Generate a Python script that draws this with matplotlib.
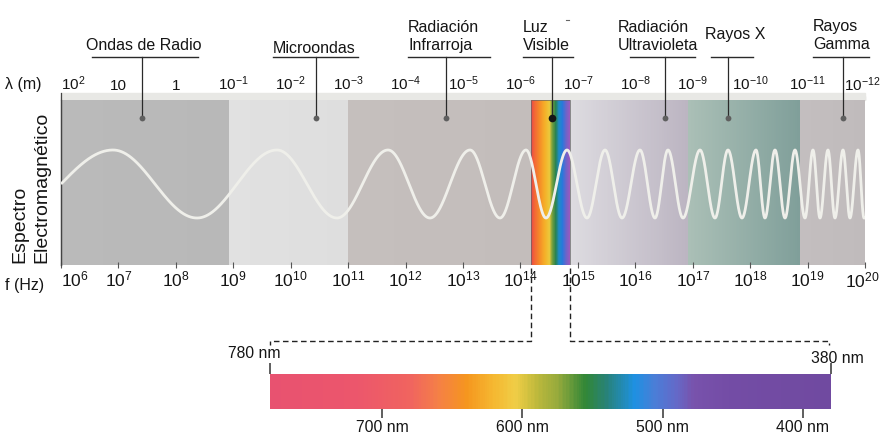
"""==============================================================
# libraries
=============================================================="""
import numpy as np
import matplotlib
matplotlib.use("Agg")
import matplotlib.pyplot as plt
from matplotlib.colors import LinearSegmentedColormap
from matplotlib.patches import Rectangle

plt.rcParams["font.family"] = ["Liberation Sans", "DejaVu Sans"]
plt.rcParams["mathtext.fontset"] = "custom"
plt.rcParams["mathtext.rm"] = "Liberation Sans"
plt.rcParams["mathtext.it"] = "Liberation Sans:italic"
plt.rcParams["mathtext.bf"] = "Liberation Sans:bold"

"""==============================================================
# data read off the picture
=============================================================="""
freq_exponents = list(range(6, 21))
wavelength_exponents = list(range(2, -13, -1))

band_names = ["Ondas de Radio", "Microondas", "Radiación\nInfrarroja",
              "Luz\nVisible", "Radiación\nUltravioleta", "Rayos X",
              "Rayos\nGamma"]
band_edges_logf = [6.0, 8.93, 11.0, 14.18, 14.86, 16.92, 18.87, 20.0]
band_pointer_logf = [7.41, 10.44, 12.70, 14.55, 16.52, 17.61, 19.62]
band_left_rgb = [(186, 186, 186), (225, 225, 225), (197, 191, 189), None,
                 (221, 219, 224), (170, 191, 182), (195, 190, 191)]
band_right_rgb = [(184, 184, 184), (222, 222, 222), (195, 189, 187), None,
                  (188, 181, 194), (128, 159, 154), (192, 187, 188)]

visible_band_pos = [0.0, 0.08, 0.22, 0.36, 0.48, 0.55, 0.64, 0.72, 0.82, 0.92, 1.0]
visible_band_rgb = [(230, 70, 75), (242, 100, 55), (245, 140, 40), (245, 175, 40),
                    (235, 200, 60), (120, 160, 60), (40, 130, 80), (30, 140, 200),
                    (40, 120, 220), (110, 100, 200), (150, 90, 190)]

# crest / trough positions of the white wave (log10 f), alternating
wave_extrema_logf = [6.905, 8.368, 9.761, 10.806, 11.694, 12.425, 13.122,
                     13.644, 14.097, 14.445, 14.811, 15.159, 15.473, 15.769,
                     16.082, 16.343, 16.569, 16.831, 17.127, 17.388, 17.614,
                     17.858, 18.102, 18.258, 18.433, 18.607, 18.781, 18.955,
                     19.094, 19.216, 19.355, 19.477, 19.617, 19.738, 19.878,
                     19.983]

spectrum_nm = [780, 720, 680, 660, 640, 620, 605, 590, 575, 555, 540, 520,
               505, 490, 478, 450, 380]
spectrum_rgb = [(232, 82, 112), (236, 86, 108), (240, 100, 95), (245, 128, 70),
                (245, 150, 30), (245, 185, 50), (240, 205, 70), (190, 185, 60),
                (150, 170, 60), (50, 135, 55), (40, 130, 120), (30, 145, 225),
                (75, 125, 215), (100, 105, 200), (120, 82, 172), (115, 76, 165),
                (112, 74, 160)]
nm_ticks = [700, 600, 500, 400]
nm_ends = [780, 380]

"""==============================================================
# helpers
=============================================================="""
W, H = 880, 434
TEXT = "#151515"


def px_rect(x0, y0, x1, y1):
    return [x0 / W, 1 - y1 / H, (x1 - x0) / W, (y1 - y0) / H]


def rgb(c):
    return tuple(v / 255 for v in c)


def to_px(axis, x, y):
    dx, dy = axis.transData.transform((x, y))
    return dx, H - dy


def power_label(k):
    return rf"$\mathregular{{10^{{{k}}}}}$"


fig = plt.figure(figsize=(W / 100, H / 100), dpi=100)

"""==============================================================
# main spectrum panel (y in pixel rows of the panel)
=============================================================="""
ax = fig.add_axes(px_rect(61, 100, 865, 265))
ax.set_xscale("log")

for i in range(len(band_names)):
    lo, hi = band_edges_logf[i], band_edges_logf[i + 1]
    if band_left_rgb[i] is None:
        cmap = LinearSegmentedColormap.from_list(
            "vis", list(zip(visible_band_pos, [rgb(c) for c in visible_band_rgb])))
    else:
        cmap = LinearSegmentedColormap.from_list(
            "band", [rgb(band_left_rgb[i]), rgb(band_right_rgb[i])])
    x_edges = 10 ** np.linspace(lo, hi, 81)
    ax.pcolormesh(x_edges, [100, 265], np.linspace(0, 1, 80)[None, :],
                  cmap=cmap, vmin=0, vmax=1, shading="flat")

vis_lo, vis_hi = 10 ** band_edges_logf[3], 10 ** band_edges_logf[4]
ax.add_patch(Rectangle((vis_lo, 100), vis_hi - vis_lo, 165, fill=False,
                       ec="#666666", lw=0.5, zorder=3))

# white wave
ext = np.array(wave_extrema_logf)
lf_pts = np.concatenate([[6.0], ext])
phase_pts = np.concatenate([[0.0], np.pi / 2 + np.pi * np.arange(len(ext))])
lf = np.linspace(6.0, 20.0, 4000)
phase = np.interp(lf, lf_pts, phase_pts)
ax.plot(10 ** lf, 184 - 34 * np.sin(phase), color="#efefea", lw=2.0, zorder=4,
        solid_capstyle="butt")

# pointers from labels into the panel
for i, p in enumerate(band_pointer_logf):
    is_vis = band_left_rgb[i] is None
    ax.plot([10 ** p, 10 ** p], [57, 118], color="#2a2a2a", lw=0.9,
            clip_on=False, zorder=5)
    ax.plot(10 ** p, 118, "o", ms=5.5 if is_vis else 4.2,
            color="#151515" if is_vis else "#5f5f5f", mec="none",
            clip_on=False, zorder=6)

ax.set_xlim(10.0 ** freq_exponents[0], 10.0 ** freq_exponents[-1])
ax.set_ylim(265, 100)
ax.set_yticks([])

# ruler strip above the panel
ax.axhspan(93, 100, color=rgb((232, 232, 229)), clip_on=False, zorder=0.5)
ax.axvline(10.0 ** freq_exponents[0], ymin=0, ymax=172 / 165, color="#444444",
           lw=0.9, clip_on=False)

for side in ["top", "right", "bottom"]:
    ax.spines[side].set_visible(False)
ax.spines["left"].set_color("#444444")
ax.spines["left"].set_linewidth(0.9)

# frequency ticks (last label is drawn in the overlay so it stays inside)
f_labels = [power_label(k) for k in freq_exponents]
ax.set_xticks([10.0 ** k for k in freq_exponents])
ax.set_xticklabels(f_labels[:-1] + [""])
ax.xaxis.set_minor_locator(matplotlib.ticker.NullLocator())
ax.tick_params(axis="x", which="major", direction="inout", length=5,
               width=0.8, color="#555555", labelsize=12.5, pad=1.0,
               labelcolor=TEXT)
ax.get_xticklabels()[0].set_ha("left")

# wavelength ticks on top
wl_labels = []
for k in wavelength_exponents:
    if k == 0:
        wl_labels.append("1")
    elif k == 1:
        wl_labels.append("10")
    else:
        wl_labels.append(power_label(k))
sec = ax.secondary_xaxis("top")
sec.set_xticks([10.0 ** k for k in freq_exponents],
               labels=wl_labels[:-1] + [""])
sec.xaxis.set_minor_locator(matplotlib.ticker.NullLocator())
sec.tick_params(axis="x", which="major", direction="out", length=3,
                width=0.8, color="#777777", labelsize=11.0, pad=2.0,
                labelcolor=TEXT)
sec.get_xticklabels()[0].set_ha("left")
for s in sec.spines.values():
    s.set_visible(False)

"""==============================================================
# visible light bar
=============================================================="""
axs = fig.add_axes(px_rect(270, 374, 831, 409))
stops = sorted(zip(spectrum_nm, spectrum_rgb))
nm_lo, nm_hi = min(nm_ends), max(nm_ends)
spec_cmap = LinearSegmentedColormap.from_list(
    "spec", [((n - nm_lo) / (nm_hi - nm_lo), rgb(c)) for n, c in stops])
nm_edges = np.linspace(nm_ends[0], nm_ends[1], 401)
nm_mid = (nm_edges[:-1] + nm_edges[1:]) / 2
axs.pcolormesh(nm_edges, [0, 1], nm_mid[None, :], cmap=spec_cmap,
               vmin=nm_lo, vmax=nm_hi, shading="flat")
axs.set_xlim(nm_ends[0], nm_ends[1])
axs.set_ylim(0, 1)
axs.set_yticks([])
for s in axs.spines.values():
    s.set_visible(False)
axs.set_xticks(nm_ticks, labels=[f"{n} nm" for n in nm_ticks])
axs.tick_params(axis="x", direction="out", length=6.5, width=1.1,
                color="#333333", labelsize=11.3, pad=1.5, labelcolor=TEXT)

axs_top = axs.secondary_xaxis("top")
axs_top.set_xticks(nm_ends, labels=["", ""])
axs_top.tick_params(axis="x", direction="out", length=8, width=1.1,
                    color="#333333")
for s in axs_top.spines.values():
    s.set_visible(False)

"""==============================================================
# overlay: labels, connectors (pixel coordinates)
=============================================================="""
ov = fig.add_axes([0, 0, 1, 1])
ov.set_xlim(0, W)
ov.set_ylim(H, 0)
ov.axis("off")

label_layout = [(144, "center", 50), (314, "center", 53), (408, "left", 32),
                (523, "left", 32), (618, "left", 32), (705, "left", 39),
                (813, "left", 31)]
label_bars = [(92, 198), (273, 358), (408, 490), (523, 573), (630, 695),
              (711, 753), (813, 869)]
for name, (lx, ha, base), (b0, b1) in zip(band_names, label_layout, label_bars):
    for j, line in enumerate(name.split("\n")):
        ov.text(lx, base + 18 * j, line, ha=ha, va="baseline",
                fontsize=11.5, color=TEXT)
    ov.plot([b0, b1], [57, 57], color="#2a2a2a", lw=1.0)

ov.plot([566, 569], [20, 20], color="#666666", lw=0.8)

# last tick labels of both scales, kept inside the figure
x_last = to_px(ax, 10.0 ** freq_exponents[-1], 265)[0]
ov.text(x_last - 3, 287, f_labels[-1], ha="center", va="baseline",
        fontsize=12.5, color=TEXT)
ov.text(x_last - 3, 91, wl_labels[-1], ha="center", va="baseline",
        fontsize=11.0, color=TEXT)

ov.text(5, 89, "λ (m)", ha="left", va="baseline", fontsize=11.5, color=TEXT)
ov.text(5, 290, "f (Hz)", ha="left", va="baseline", fontsize=11.5, color=TEXT)
ov.text(20, 263, "Espectro", rotation=90, ha="center", va="bottom",
        fontsize=14, color=TEXT)
ov.text(42, 263, "Electromagnético", rotation=90, ha="center", va="bottom",
        fontsize=14, color=TEXT)

# dashed connectors from the visible band to the bar ends
x_vis_lo = to_px(ax, vis_lo, 265)[0]
x_vis_hi = to_px(ax, vis_hi, 265)[0]
x_end_lo = to_px(axs, nm_ends[0], 0)[0]
x_end_hi = to_px(axs, nm_ends[1], 0)[0]
for xa, xb in [(x_vis_lo, x_end_lo), (x_vis_hi, x_end_hi - 2)]:
    ov.plot([xa, xa, xb, xb], [268, 341, 341, 345], color="#222222", lw=1.0,
            ls=(0, (4, 2.5)))

ov.text(x_end_lo - 16, 358, "780 nm", ha="center", va="baseline",
        fontsize=11.3, color=TEXT)
ov.text(x_end_hi + 6, 363, "380 nm", ha="center", va="baseline",
        fontsize=11.3, color=TEXT)

fig.savefig("out.png", dpi=100)
